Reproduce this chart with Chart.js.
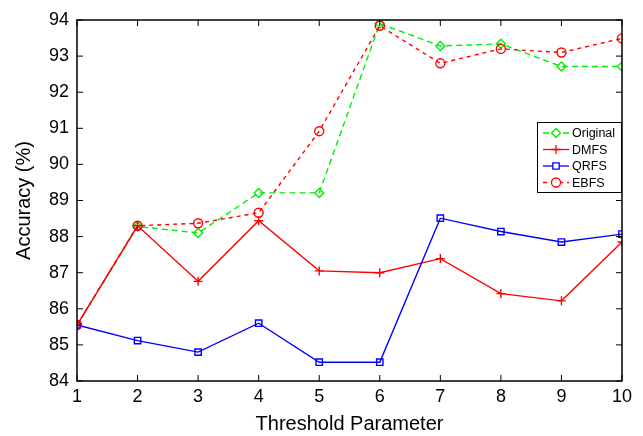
<!DOCTYPE html>
<html>
<head>
<meta charset="utf-8">
<script src="https://cdn.jsdelivr.net/npm/chart.js@4.4.1/dist/chart.umd.min.js"></script>
<style>
  html, body { margin: 0; padding: 0; background: #fff; }
  #wrap { width: 643px; height: 436px; }
</style>
</head>
<body>
<div id="wrap"><canvas id="chart" width="643" height="436"></canvas></div>
<script>
const thresholds = [1, 2, 3, 4, 5, 6, 7, 8, 9, 10];
const original = [85.55, 88.28, 88.1, 89.21, 89.21, 93.9, 93.28, 93.34, 92.71, 92.71];
const dmfs = [85.55, 88.3, 86.76, 88.44, 87.05, 87.0, 87.39, 86.42, 86.22, 87.85];
const qrfs = [85.55, 85.12, 84.8, 85.6, 84.52, 84.52, 88.51, 88.14, 87.85, 88.07];
const ebfs = [85.55, 88.3, 88.37, 88.66, 90.92, 93.84, 92.8, 93.2, 93.1, 93.49];
const yTicks = [84, 85, 86, 87, 88, 89, 90, 91, 92, 93, 94];

const FONT = 'Liberation Sans, Arial, Helvetica, sans-serif';

function pts(arr) {
  return arr.map((v, i) => ({ x: thresholds[i], y: v }));
}

// box around the plot and MATLAB-style inward ticks
const boxPlugin = {
  id: 'box',
  afterDraw(chart) {
    const { ctx, chartArea: a, scales } = chart;
    ctx.save();
    ctx.strokeStyle = '#000';
    ctx.lineWidth = 1.5;
    ctx.strokeRect(a.left, a.top, a.right - a.left, a.bottom - a.top);
    ctx.lineWidth = 1;
    ctx.beginPath();
    thresholds.forEach(t => {
      const x = scales.x.getPixelForValue(t);
      ctx.moveTo(x, a.bottom); ctx.lineTo(x, a.bottom - 6);
      ctx.moveTo(x, a.top); ctx.lineTo(x, a.top + 6);
    });
    yTicks.forEach(t => {
      const y = scales.y.getPixelForValue(t);
      ctx.moveTo(a.left, y); ctx.lineTo(a.left + 6, y);
      ctx.moveTo(a.right, y); ctx.lineTo(a.right - 6, y);
    });
    ctx.stroke();
    ctx.restore();
  }
};

// legend box drawn inside the plot, top-right
const legendPlugin = {
  id: 'insideLegend',
  afterDraw(chart) {
    const { ctx, chartArea: a } = chart;
    const w = 85, h = 71;
    const x0 = a.right - w, y0 = 122;
    ctx.save();
    ctx.fillStyle = '#fff';
    ctx.fillRect(x0, y0, w, h);
    ctx.strokeStyle = '#000';
    ctx.lineWidth = 1;
    ctx.strokeRect(x0 + 0.5, y0 + 0.5, w - 1, h - 1);
    ctx.font = '12.5px ' + FONT;
    ctx.textBaseline = 'middle';
    chart.data.datasets.forEach((ds, i) => {
      const y = y0 + 11 + i * 16.5;
      ctx.strokeStyle = ds.borderColor;
      ctx.lineWidth = 1.3;
      ctx.setLineDash(ds.borderDash || []);
      ctx.beginPath();
      ctx.moveTo(x0 + 6, y); ctx.lineTo(x0 + 32, y);
      ctx.stroke();
      ctx.setLineDash([]);
      ctx.fillStyle = '#fff';
      Chart.helpers.drawPoint(ctx, {
        pointStyle: ds.pointStyle, radius: ds.pointRadius, borderWidth: ds.pointBorderWidth
      }, x0 + 19, y);
      ctx.fillStyle = '#000';
      ctx.fillText(ds.label, x0 + 35, y + 1);
    });
    ctx.restore();
  }
};

function series(label, data, color, dash, style, order) {
  return {
    label: label,
    data: pts(data),
    order: order,
    borderColor: color,
    backgroundColor: 'rgba(0,0,0,0)',
    borderWidth: 1.4,
    borderDash: dash,
    pointStyle: style,
    pointRadius: 4.5,
    pointBorderWidth: 1.4,
    pointBorderColor: color,
    pointBackgroundColor: 'rgba(0,0,0,0)',
    tension: 0
  };
}

new Chart(document.getElementById('chart'), {
  type: 'line',
  data: {
    datasets: [
      series('Original', original, '#00ee00', [6, 4], 'rectRot', 4),
      series('DMFS', dmfs, '#ff0000', [], 'cross', 3),
      series('QRFS', qrfs, '#0000ff', [], 'rect', 2),
      series('EBFS', ebfs, '#ff0000', [4, 4], 'circle', 1)
    ]
  },
  options: {
    responsive: false,
    animation: false,
    layout: { padding: { top: 20, right: 21, left: 0, bottom: 0 } },
    plugins: { legend: { display: false }, tooltip: { enabled: false } },
    scales: {
      x: {
        type: 'linear',
        min: 1, max: 10,
        afterBuildTicks: s => { s.ticks = thresholds.map(v => ({ value: v })); },
        afterFit: s => { s.height = 55; },
        grid: { display: false, drawTicks: false },
        border: { display: false },
        ticks: { color: '#000', font: { family: FONT, size: 18 }, padding: 5, maxRotation: 0 },
        title: { display: true, text: 'Threshold Parameter', color: '#000', font: { family: FONT, size: 20 }, padding: { top: 4, bottom: 0 } }
      },
      y: {
        min: 84, max: 94,
        afterBuildTicks: s => { s.ticks = yTicks.map(v => ({ value: v })); },
        afterFit: s => { s.width = 77; },
        grid: { display: false, drawTicks: false },
        border: { display: false },
        ticks: { color: '#000', font: { family: FONT, size: 18 }, padding: 8 },
        title: { display: true, text: 'Accuracy (%)', color: '#000', font: { family: FONT, size: 20 }, padding: { top: 12, bottom: 0 } }
      }
    }
  },
  plugins: [boxPlugin, legendPlugin]
});
</script>
</body>
</html>
